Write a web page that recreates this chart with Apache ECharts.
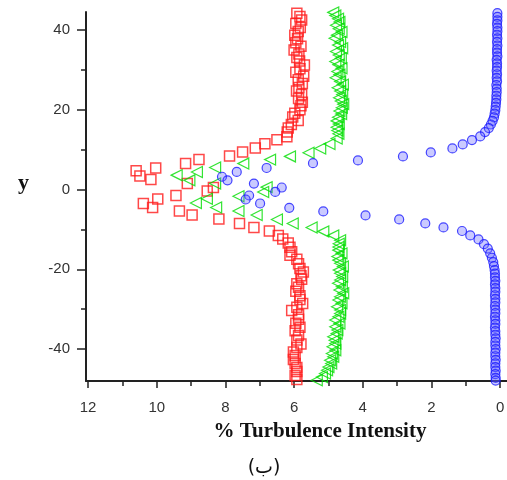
<!DOCTYPE html>
<html><head><meta charset="utf-8">
<script src="https://cdn.jsdelivr.net/npm/echarts@6/dist/echarts.min.js"></script>
<style>html,body{margin:0;padding:0;background:#fff}#c{width:507px;height:480px}</style>
</head><body><div id="c"></div>
<script>
// Tick labels
const xTickLabels = [0, 2, 4, 6, 8, 10, 12];
const xMinorTicks = [1, 3, 5, 7, 9, 11];
const yTickLabels = [-40, -20, 0, 20, 40];
const yMinorTicks = [-30, -10, 10, 30];

// Red squares
const redX = [5.92,5.83,5.78,5.95,5.82,5.88,5.98,5.90,5.95,5.80,6.00,5.86,5.92,5.84,5.70,5.83,5.95,5.72,5.88,5.76,5.86,5.93,5.78,5.87,5.76,5.80,5.83,5.98,6.04,5.88,6.08,6.17,6.20,
  6.21,6.50,6.85,7.13,7.50,7.88,8.77,9.16,10.03,10.60,10.49,10.17,9.11,8.35,8.53,9.44,9.97,10.39,10.12,9.34,8.97,8.19,7.59,7.17,6.72,6.46,6.33,6.17,6.12,
  6.07,6.12,5.92,5.87,5.83,5.73,5.80,5.78,5.92,5.87,5.95,5.83,5.83,5.75,5.92,6.07,5.87,5.87,5.95,5.83,5.97,5.87,5.92,5.80,5.92,6.02,5.97,6.02,5.97,5.92,5.92,5.97,5.92];
const redY = [44.2,43.4,42.5,41.6,40.6,39.6,38.7,37.8,36.8,35.9,35.0,34.0,33.1,32.2,31.2,30.3,29.4,28.4,27.5,26.6,25.6,24.7,23.8,22.8,21.9,21.0,20.0,19.1,18.2,17.3,16.3,15.4,14.4,
  13.2,12.5,11.5,10.4,9.4,8.4,7.5,6.5,5.4,4.7,3.4,2.5,1.5,0.5,-0.4,-1.5,-2.4,-3.5,-4.5,-5.4,-6.4,-7.4,-8.5,-9.5,-10.4,-11.5,-12.4,-13.4,-14.5,
  -15.6,-16.5,-17.5,-18.6,-19.8,-20.7,-21.6,-22.5,-23.6,-24.5,-25.5,-26.6,-27.6,-28.6,-29.5,-30.3,-31.4,-32.5,-33.5,-34.5,-35.4,-36.6,-37.7,-38.7,-39.6,-40.7,-41.6,-42.6,-43.6,-44.6,-45.6,-46.6,-47.6];

// Green triangles
const greenX = [4.86,4.80,4.72,4.68,4.78,4.70,4.62,4.75,4.82,4.66,4.72,4.60,4.78,4.70,4.64,4.80,4.71,4.62,4.74,4.68,4.79,4.66,4.58,4.73,4.66,4.60,4.69,4.64,4.57,4.61,4.68,4.63,4.72,4.76,4.70,4.76,4.74,4.71,
  4.76,4.97,5.24,5.58,6.12,6.70,7.48,8.30,8.83,9.42,9.05,8.30,6.80,6.90,7.62,8.54,8.86,8.27,7.62,7.09,6.50,6.04,5.49,5.15,4.86,4.66,4.70,
  4.71,4.71,4.62,4.74,4.71,4.66,4.58,4.70,4.66,4.60,4.66,4.72,4.61,4.68,4.57,4.66,4.71,4.62,4.75,4.66,4.66,4.71,4.80,4.68,4.80,4.74,4.76,4.86,4.82,4.80,4.88,4.80,4.90,4.86,4.95,4.92,5.00,5.04,5.10,5.19,5.34];
const greenY = [44.4,43.6,42.8,42.0,41.2,40.3,39.5,38.7,37.9,37.0,36.2,35.4,34.6,33.7,32.9,32.1,31.3,30.4,29.6,28.8,28.0,27.1,26.3,25.5,24.7,23.8,23.0,22.2,21.4,20.5,19.7,18.9,18.1,17.2,16.4,15.6,14.8,14.0,
  12.8,11.4,10.3,9.2,8.3,7.5,6.5,5.5,4.4,3.6,2.3,1.5,0.6,-0.6,-1.7,-2.3,-3.4,-4.5,-5.4,-6.4,-7.5,-8.5,-9.5,-10.5,-11.5,-12.7,-13.6,
  -14.4,-15.2,-16.0,-16.8,-17.7,-18.5,-19.3,-20.2,-21.0,-21.8,-22.7,-23.5,-24.4,-25.2,-26.0,-26.9,-27.7,-28.5,-29.4,-30.2,-31.1,-31.9,-32.7,-33.6,-34.4,-35.2,-36.1,-36.9,-37.8,-38.6,-39.4,-40.3,-41.1,-41.9,-42.8,-43.6,-44.5,-45.3,-46.1,-47.0,-47.8];

// Blue circles
const blueX = [0.08,0.08,0.08,0.09,0.08,0.08,0.09,0.08,0.09,0.08,0.09,0.09,0.08,0.10,0.09,0.09,0.10,0.09,0.10,0.09,0.11,0.10,0.10,0.11,0.11,0.12,0.13,0.14,0.16,0.18,0.22,0.27,0.33,
  0.44,0.58,0.82,1.09,1.39,2.02,2.83,4.14,5.45,6.80,7.67,8.10,7.94,7.17,6.36,6.55,7.31,7.41,6.99,6.14,
  5.15,3.92,2.94,2.18,1.65,1.11,0.87,0.63,0.47,0.36,0.29,0.24,0.20,0.18,0.16,0.15,0.15,0.14,0.15,0.14,0.14,0.15,0.14,0.14,0.15,0.14,0.14,0.15,0.14,0.14,0.15,0.14,0.14,0.13,0.14,0.14,0.13,0.14,0.14,0.13,0.14,0.14,0.13,0.14,0.13,0.13];
const blueY = [44.2,43.3,42.4,41.5,40.6,39.7,38.8,37.9,37.0,36.1,35.2,34.3,33.4,32.5,31.6,30.7,29.8,28.9,28.0,27.1,26.2,25.3,24.4,23.5,22.6,21.7,20.8,19.9,19.0,18.1,17.2,16.3,15.4,
  14.4,13.3,12.4,11.3,10.3,9.3,8.3,7.3,6.6,5.4,4.4,3.2,2.3,1.5,0.5,-0.6,-1.5,-2.5,-3.5,-4.6,
  -5.5,-6.5,-7.5,-8.5,-9.5,-10.4,-11.5,-12.5,-13.7,-14.8,-16.0,-17.1,-18.2,-19.2,-20.2,-21.1,-22.0,-22.9,-23.8,-24.7,-25.6,-26.5,-27.4,-28.3,-29.2,-30.1,-31.0,-31.9,-32.8,-33.7,-34.6,-35.5,-36.4,-37.3,-38.2,-39.1,-40.0,-40.9,-41.8,-42.7,-43.6,-44.5,-45.4,-46.3,-47.2,-47.9];

function zip(xs, ys) { return xs.map((x, i) => [x, ys[i]]); }

const chart = echarts.init(document.getElementById('c'), null, {renderer: 'canvas'});
const axisColor = '#222';
const labelStyle = {fontSize: 15, color: '#333', fontFamily: 'Liberation Sans, Arial, sans-serif'};

chart.setOption({
  animation: false,
  backgroundColor: '#fff',
  grid: {left: 86, right: 0, top: 12, bottom: 99, containLabel: false, outerBoundsMode: 'none'},
  xAxis: [
    {type: 'value', min: -0.2, max: 12.06, inverse: true, position: 'bottom',
     axisLine: {onZero: false, lineStyle: {color: axisColor, width: 2}},
     axisTick: {customValues: xTickLabels, length: 7, lineStyle: {color: axisColor, width: 1.5}},
     axisLabel: Object.assign({customValues: xTickLabels, margin: 19}, labelStyle),
     splitLine: {show: false}},
    {type: 'value', min: -0.2, max: 12.06, inverse: true, position: 'bottom',
     axisLine: {show: false, onZero: false},
     axisTick: {customValues: xMinorTicks, length: 5, lineStyle: {color: axisColor, width: 1.5}},
     axisLabel: {show: false}, splitLine: {show: false}}
  ],
  yAxis: [
    {type: 'value', min: -48, max: 44.5, position: 'left',
     axisLine: {onZero: false, lineStyle: {color: axisColor, width: 2}},
     axisTick: {customValues: yTickLabels, length: 9, lineStyle: {color: axisColor, width: 1.5}},
     axisLabel: Object.assign({customValues: yTickLabels, margin: 16}, labelStyle),
     splitLine: {show: false}},
    {type: 'value', min: -48, max: 44.5, position: 'left',
     axisLine: {show: false, onZero: false},
     axisTick: {customValues: yMinorTicks, length: 5, lineStyle: {color: axisColor, width: 1.5}},
     axisLabel: {show: false}, splitLine: {show: false}}
  ],
  series: [
    {type: 'scatter', data: zip(redX, redY), symbol: 'rect', symbolSize: 10,
     itemStyle: {color: 'rgba(255,255,255,0)', borderColor: '#ff1a1a', borderWidth: 1.5}},
    {type: 'scatter', data: zip(greenX, greenY), symbol: 'triangle', symbolSize: 11, symbolRotate: 90,
     itemStyle: {color: 'rgba(255,255,255,0)', borderColor: '#00dd00', borderWidth: 1.2}},
    {type: 'scatter', data: zip(blueX, blueY), symbol: 'circle', symbolSize: 9,
     itemStyle: {color: 'rgba(90,90,255,0.4)', borderColor: '#1a1aff', borderWidth: 1.2}}
  ],
  graphic: [
    {type: 'text', left: 18, top: 172, style: {text: 'y', font: 'bold 22px "Liberation Serif", "Times New Roman", serif', fill: '#111'}},
    {type: 'text', x: 320, y: 432, style: {text: '% Turbulence Intensity', font: 'bold 21px "Liberation Serif", "Times New Roman", serif', fill: '#111', align: 'center', verticalAlign: 'middle'}},
    {type: 'text', x: 264, y: 468, style: {text: '(ب)', font: '19px "DejaVu Sans", "Liberation Serif", serif', fill: '#111', align: 'center', verticalAlign: 'middle'}}
  ]
});
</script>
</body></html>
